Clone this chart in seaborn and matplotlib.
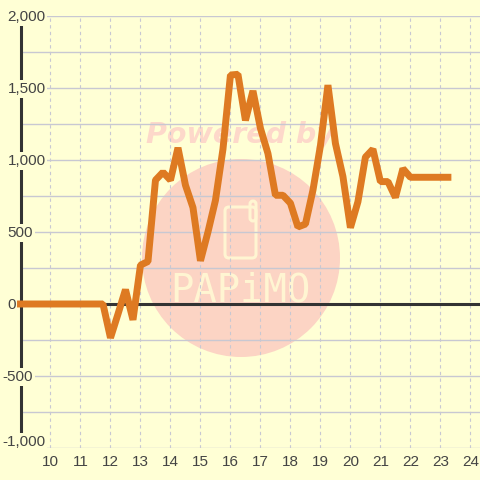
import matplotlib
matplotlib.use("Agg")
import numpy as np
import pandas as pd
import seaborn as sns
import matplotlib.pyplot as plt
from matplotlib.patches import Circle, FancyBboxPatch
from matplotlib.transforms import Affine2D

hours = np.arange(9, 23.5, 0.25)
values = [0] * 12 + [-235, -70, 100, -110, 270, 295, 860, 915, 860, 1085, 825, 670,
          300, 500, 720, 1075, 1590, 1595, 1275, 1480, 1220, 1045, 755, 755,
          700, 535, 555, 790, 1100, 1520, 1115, 885, 530, 710, 1020, 1075,
          850, 850, 740, 940, 880, 880, 880, 880, 880, 880]
df = pd.DataFrame({"hour": hours, "value": values})

y_major = [-1000, -500, 0, 500, 1000, 1500, 2000]
y_minor = [-750, -250, 250, 750, 1250, 1750]
y_labels = ["-1,000", "-500", "0", "500", "1,000", "1,500", "2,000"]
x_ticks = list(range(10, 25))

BG = "#FFFFD5"
GRID = "#C8C8D2"
DARK = "#333333"
TXT = "#444444"
ORANGE = "#DE7A22"
PINK = "#FCD4C4"
PALE = "#FFF5D2"

sns.set_theme(style="white")
plt.rcParams["font.family"] = ["Liberation Sans", "DejaVu Sans"]

fig = plt.figure(figsize=(4.8, 4.8), dpi=100, facecolor=BG)
ax = fig.add_axes([20.5 / 480, 32 / 480, 459.5 / 480, 432 / 480])
ax.patch.set_alpha(0)

# watermark sits behind the axes, in pixels from the top left
px = Affine2D().scale(1, -1).translate(0, 480)
fig.add_artist(Circle((241, 258), 99, color=PINK, lw=0, transform=px, zorder=-2))
fig.add_artist(FancyBboxPatch((225, 207), 31, 51, boxstyle="round,pad=0,rounding_size=4",
                              fc="none", ec=PALE, lw=2.2, transform=px, zorder=-1))
fig.add_artist(FancyBboxPatch((250, 201), 6, 20, boxstyle="round,pad=0,rounding_size=3",
                              fc="none", ec=PALE, lw=2.2, transform=px, zorder=-1))
fig.text(240, 135, "Powered by", transform=px, color="#FDD8CA", fontsize=20.5, weight="bold",
         style="italic", family="DejaVu Sans", ha="center", va="center", zorder=-1)
fig.text(240, 291, "PAPiMO", transform=px, color=PALE, fontsize=28, family="DejaVu Sans Mono",
         ha="center", va="center", zorder=-1)

ax.set_xlim(9, 24.32)
ax.set_ylim(-1000, 2000)
ax.set_xticks(x_ticks)
ax.set_yticks(y_major + y_minor)
ax.set_yticklabels([])
ax.tick_params(axis="both", length=0)
ax.tick_params(axis="x", labelsize=11, labelcolor=TXT, pad=5)
ax.grid(axis="y", color=GRID, lw=1, zorder=1)
ax.grid(axis="x", color=GRID, lw=0.8, ls=(0, (3, 3)), zorder=1)
ax.set_axisbelow(True)

for s in ["top", "right", "bottom"]:
    ax.spines[s].set_visible(False)
ax.spines["left"].set_color(DARK)
ax.spines["left"].set_linewidth(2.2)
ax.axhline(0, color=DARK, lw=2.2, zorder=2.6)

for v, lab in zip(y_major, y_labels):
    dx = -18 if lab.startswith("-") else -13
    dy = 6 if v == -1000 else -1
    ax.annotate(lab, (0, v), xycoords=ax.get_yaxis_transform(), xytext=(dx, dy),
                textcoords="offset pixels", ha="left", va="center", color=TXT, fontsize=11,
                annotation_clip=False, zorder=3,
                bbox=dict(fc=BG, ec="none", boxstyle="square,pad=0.12"))

sns.lineplot(data=df, x="hour", y="value", color=ORANGE, lw=5, ax=ax, zorder=4, clip_on=False,
             solid_capstyle="projecting", solid_joinstyle="bevel")
ax.set_xlabel("")
ax.set_ylabel("")

fig.savefig("out.png", dpi=100, facecolor=BG)
